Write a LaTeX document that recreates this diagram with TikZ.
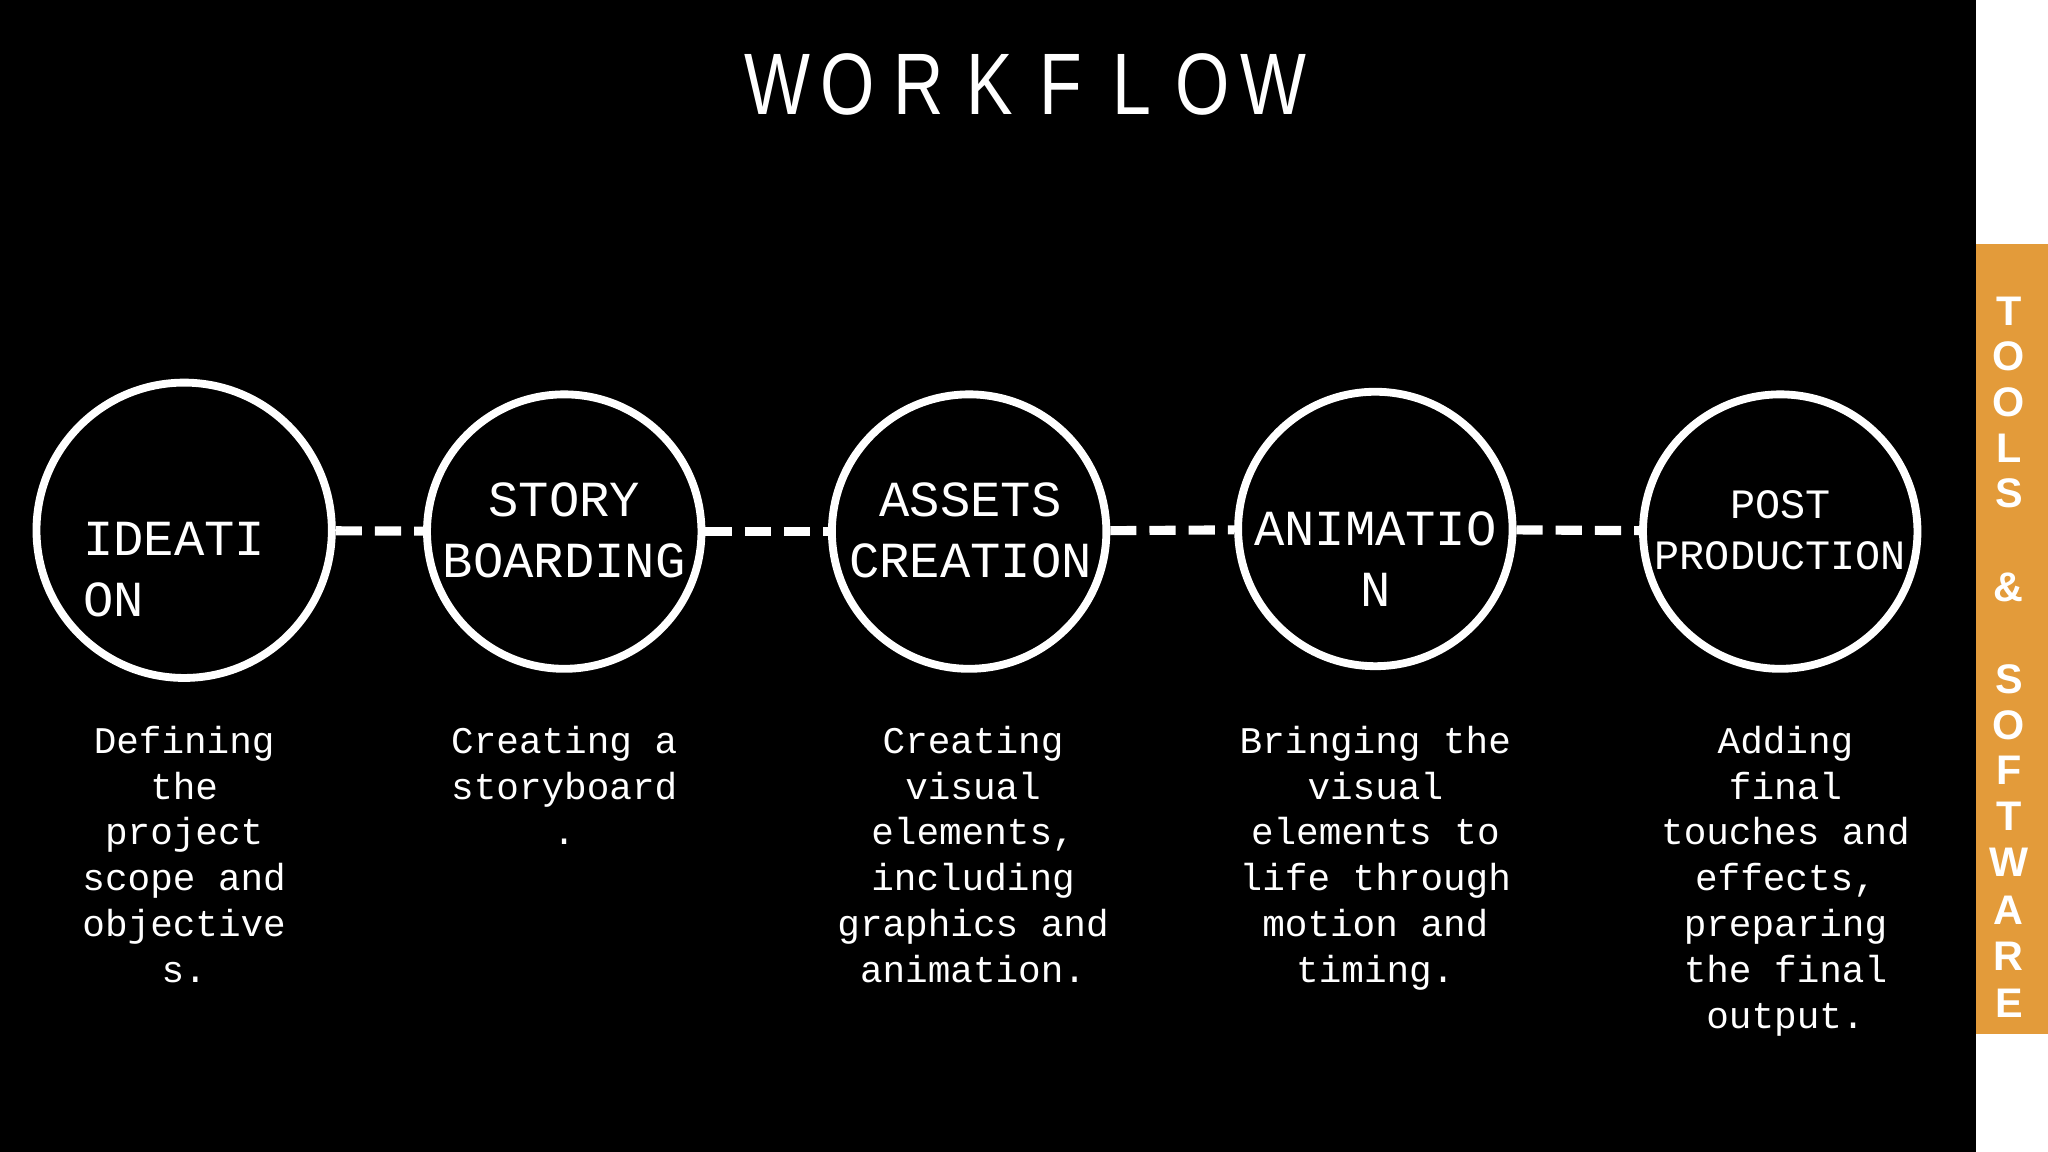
\documentclass[tikz,border=0pt]{standalone}
\usepackage{fontspec}
\setmainfont{Liberation Sans}
\newfontfamily\monof{Liberation Mono}
\definecolor{sideorange}{HTML}{E39B3A}
\begin{document}
\begin{tikzpicture}[x=0.01cm,y=-0.01cm,
  stage/.style={circle,draw=white,line width=0.06cm,inner sep=0pt},
  lbl/.style={text=white,font=\monof\fontsize{11}{13.4}\selectfont,align=center,inner sep=0pt},
  desc/.style={text=white,font=\monof\fontsize{8.2}{10}\selectfont,align=center,inner sep=0pt,anchor=north},
  link/.style={draw=white,line width=0.07cm,dash pattern=on 0.2cm off 0.1cm},
  tl/.style={text=white,font=\fontsize{19}{19}\selectfont,xscale=0.8,inner sep=0pt,anchor=base},
  sl/.style={text=white,font=\bfseries\fontsize{9}{9}\selectfont,inner sep=0pt}]
\useasboundingbox (0,0) rectangle (1568,882);
\fill[black] (0,0) rectangle (1513,882);
\fill[white] (1513,0) rectangle (1568,882);
\fill[sideorange] (1513,187) rectangle (1568,792);
% title
\foreach \ch [count=\i from 0] in {W,O,R,K,F,L,O,W}
  \node[tl] (t\i) at (595+54.3*\i,88) {\ch};
% side text
\foreach \ch/\yy [count=\i] in {T/238,O/273,O/308,L/343,S/378,\&/450,S/520,O/555,F/590,T/625,W/660,A/697,R/732,E/768}
  \node[sl] (s\i) at (1538,\yy) {\ch};
% circles
\node[stage,minimum size=2.26cm] (c1) at (141,406) {};
\node[stage,minimum size=2.1cm] (c2) at (432,407) {};
\node[stage,minimum size=2.1cm] (c3) at (742,407) {};
\node[stage,minimum size=2.1cm] (c4) at (1053,405) {};
\node[stage,minimum size=2.1cm] (c5) at (1363,407) {};
\draw[link] (c1) -- (c2);
\draw[link] (c2) -- (c3);
\draw[link] (c3) -- (c4);
\draw[link] (c4) -- (c5);
% labels
\node[lbl,align=left,anchor=west] (l1) at (63,436) {IDEATI\\ON};
\node[lbl] (l2) at (432,406) {STORY\\BOARDING};
\node[lbl] (l3) at (743,406) {ASSETS\\CREATION};
\node[lbl] (l4) at (1053,428) {ANIMATIO\\N};
\node[lbl,font=\monof\fontsize{9.1}{11}\selectfont] (l5) at (1363,406) {POST\\PRODUCTION};
% descriptions
\node[desc] (d1) at (141,555) {Defining\\the\\project\\scope and\\objective\\s.};
\node[desc] (d2) at (432,555) {Creating a\\storyboard\\.};
\node[desc] (d3) at (745,555) {Creating\\visual\\elements,\\including\\graphics and\\animation.};
\node[desc] (d4) at (1053,555) {Bringing the\\visual\\elements to\\life through\\motion and\\timing.};
\node[desc] (d5) at (1367,555) {Adding\\final\\touches and\\effects,\\preparing\\the final\\output.};
\end{tikzpicture}
\end{document}
